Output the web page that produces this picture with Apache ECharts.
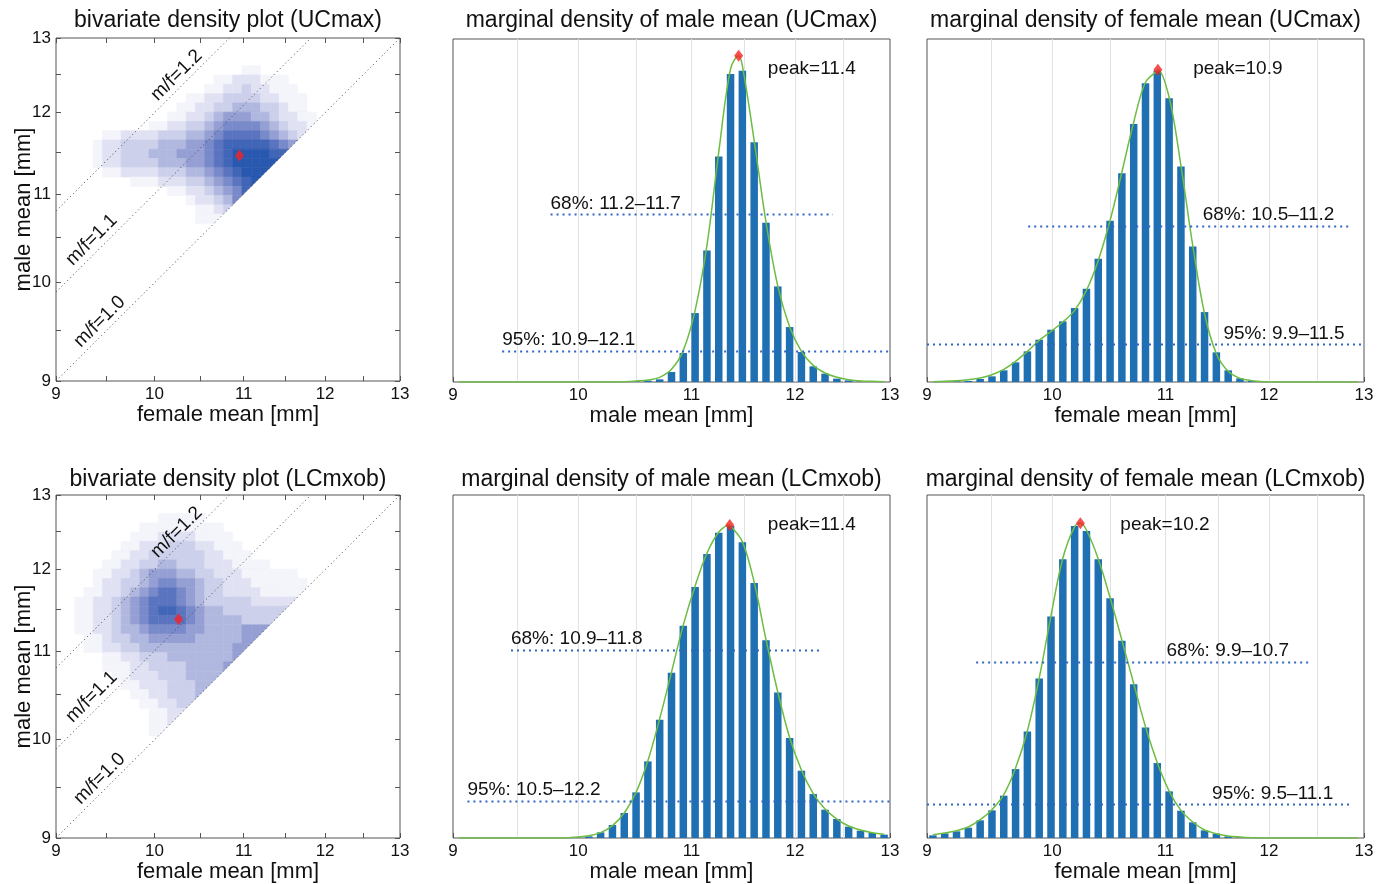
<!DOCTYPE html>
<html>
<head>
<meta charset="utf-8">
<script src="https://cdn.jsdelivr.net/npm/echarts@6/dist/echarts.min.js"></script>
<style>
  html, body { margin: 0; padding: 0; background: #ffffff; }
  #chart { width: 1389px; height: 884px; }
</style>
</head>
<body>
<div id="chart"></div>
<script>
// ---------------------------------------------------------------------------
// Posterior densities of male / female means for two tooth measurements.
// Both axes are logarithmic (9 … 13 mm); histogram bins and density cells
// are equally wide in log space (37 bins across the axis).
// ---------------------------------------------------------------------------

const majorTicks = [9, 10, 11, 12, 13];
const minorTicks = [9, 9.5, 10, 10.5, 11, 11.5, 12, 12.5, 13];
const gridMarks = [9.5, 10, 10.5, 11, 11.5, 12, 12.5];

const panelTitles = [
  'bivariate density plot (UCmax)',
  'marginal density of male mean (UCmax)',
  'marginal density of female mean (UCmax)',
  'bivariate density plot (LCmxob)',
  'marginal density of male mean (LCmxob)',
  'marginal density of female mean (LCmxob)'
];

// marginal histograms, one value per log bin (relative density)
const maleUCmax = [0,0,0,0,0,0,0,0,0,0,0,0,0,0, 1,2,4,8,30,87,207,395,677,925,935,720,478,287,165,90,47,25,10,5,2,1,0];
const femaleUCmax = [0,1,2,3,9,17,35,59,92,127,157,182,222,280,370,484,627,775,897,935,852,647,407,210,89,35,11,3,1, 0,0,0,0,0,0,0,0];
const maleLCmxob = [0,0,0,0,0,0,0,0,0,0, 2,5,17,39,75,137,230,355,496,637,754,853,917,937,888,766,594,437,300,202,132,85,57,34,22,15,10];
const femaleLCmxob = [8,14,20,31,53,83,127,207,320,479,665,837,937,922,837,720,592,462,332,225,140,82,47,23,13,5,2, 0,0,0,0,0,0,0,0,0,0];

// smoothed density curves evaluated at the bin centres
const maleUCmaxCurve = [0,0,0,0,0,0,0,0,0,0,0,0,0,0, 1,3,6,14,38,95,215,410,690,940,950,725,480,288,166,92,50,27,14,7,3,2,1];
const femaleUCmaxCurve = [1,2,4,7,12,22,38,62,92,125,152,180,215,275,365,485,630,780,900,935,855,650,410,205,85,32,11,4,1, 0,0,0,0,0,0,0,0];
const maleLCmxobCurve = [0,0,0,0,0,0,0,0,0,0, 3,7,16,37,75,137,232,358,498,640,757,855,918,938,890,768,596,438,302,204,133,87,57,36,24,16,11];
const femaleLCmxobCurve = [10,15,22,33,55,85,130,210,322,480,668,840,935,925,838,722,594,464,334,226,141,83,48,24,13,6,3,1, 0,0,0,0,0,0,0,0,0];

// curve maxima: [mean in mm, density]
const maleUCmaxPeak = [11.445, 980];
const femaleUCmaxPeak = [10.93, 938];
const maleLCmxobPeak = [11.36, 940];
const femaleLCmxobPeak = [10.24, 945];

// highest-density intervals: coverage, bounds in mm, density level of the cut
const maleUCmaxHPD = [
  { pct: 68, lo: 11.2, hi: 11.7, level: 503 },
  { pct: 95, lo: 10.9, hi: 12.1, level: 93 }
];
const femaleUCmaxHPD = [
  { pct: 68, lo: 10.5, hi: 11.2, level: 469 },
  { pct: 95, lo: 9.9, hi: 11.5, level: 113 }
];
const maleLCmxobHPD = [
  { pct: 68, lo: 10.9, hi: 11.8, level: 566 },
  { pct: 95, lo: 10.5, hi: 12.2, level: 112 }
];
const femaleLCmxobHPD = [
  { pct: 68, lo: 9.9, hi: 10.7, level: 529 },
  { pct: 95, lo: 9.5, hi: 11.1, level: 101 }
];

// joint densities: [male bin row, first female bin column, levels 0-9 per column]
const jointUCmax = [
  [33, 20, '11'],
  [32, 17, '11222111'],
  [31, 16, '1122322111'],
  [30, 14, '1122333322111'],
  [29, 13, '11223344433211'],
  [28, 12, '1122345554432211'],
  [27, 10, '112233456666543221'],
  [26, 5, '1122223334456777765432'],
  [25, 4, '1223333444556788888765'],
  [24, 4, '122333444555678999988'],
  [23, 4, '12233334445567899999'],
  [22, 5, '112222333445678999'],
  [21, 8, '11122233456789'],
  [20, 12, '112234568'],
  [19, 14, '122346'],
  [18, 15, '1123'],
  [17, 15, '111']
];
const jointLCmxob = [
  [34, 11, '11111'],
  [33, 9, '111111111'],
  [32, 8, '11122221111'],
  [31, 7, '1122233322111'],
  [30, 6, '112233333322111'],
  [29, 5, '112233443332221111'],
  [28, 4, '1122345554433222111111'],
  [27, 4, '12233456655433222111111'],
  [26, 3, '112234567765433222211111'],
  [25, 2, '112234567776543333322222'],
  [24, 2, '11223456788765443333333'],
  [23, 2, '1122345677776544443333'],
  [22, 2, '112234456666554444555'],
  [21, 3, '1123344555554444455'],
  [20, 3, '112233444444444455'],
  [19, 5, '112233344444445'],
  [18, 5, '11122333344445'],
  [17, 6, '112223334444'],
  [16, 7, '1122233344'],
  [15, 8, '11223334'],
  [14, 9, '112233'],
  [13, 10, '1122'],
  [12, 10, '112'],
  [11, 10, '11']
];
// joint modes [female mm, male mm]
const jointUCmaxMode = [10.95, 11.46];
const jointLCmxobMode = [10.26, 11.38];
// sex-ratio reference lines
const ratios = [1.0, 1.1, 1.2];

// ---------------------------------------------------------------------------
// layout
// ---------------------------------------------------------------------------
const FONT = "'Liberation Sans', Arial, Helvetica, sans-serif";
const L = Math.log;
const LMIN = L(9), LMAX = L(13);
const NBINS = 37;
const BIN = (LMAX - LMIN) / NBINS;
const YMAX = 1030;

const BOXES = [
  { left: 56, top: 38, width: 344, height: 343 },
  { left: 453, top: 39, width: 437, height: 343 },
  { left: 927, top: 39, width: 437, height: 343 },
  { left: 56, top: 495, width: 344, height: 343 },
  { left: 453, top: 495, width: 437, height: 343 },
  { left: 927, top: 495, width: 437, height: 343 }
];
const TITLE_Y = [21, 21, 21, 480, 480, 480];

// dotted interval lines: [from, to] in mm, label anchor (mm), peak text anchor
const HIST_LAYOUT = [
  { lines: [[9.77, 12.39], [9.38, 13]], labels: [9.77, 9.38], peakText: [11.73, 942] },
  { lines: [[9.80, 12.85], [9, 13]], labels: [11.35, 11.55], peakText: [11.26, 942] },
  { lines: [[9.45, 12.26], [9.11, 13]], labels: [9.45, 9.11], peakText: [11.73, 942] },
  { lines: [[9.38, 12.44], [9, 12.87]], labels: [11.01, 11.44], peakText: [10.59, 942] }
];
// ratio label anchors [female mm, male mm], same order as ratios
const RATIO_TEXT_POS = [[9.43, 9.59], [9.35, 10.47], [10.24, 12.49]];

const COLOR_STOPS = [
  [0, [255, 255, 255]],
  [0.11, [244, 244, 251]],
  [0.33, [205, 209, 235]],
  [0.55, [150, 160, 212]],
  [0.8, [85, 112, 190]],
  [1, [40, 88, 175]]
];
function densityColor(t) {
  for (let i = 1; i < COLOR_STOPS.length; i++) {
    const [t1, c1] = COLOR_STOPS[i];
    const [t0, c0] = COLOR_STOPS[i - 1];
    if (t <= t1) {
      const f = (t - t0) / (t1 - t0);
      const c = c0.map((v, k) => Math.round(v + (c1[k] - v) * f));
      return `rgb(${c[0]},${c[1]},${c[2]})`;
    }
  }
  return 'rgb(40,88,175)';
}

const binCenter = k => LMIN + (k + 0.5) * BIN;
const fmtTick = v => String(Math.round(Math.exp(v)));

// ---------------------------------------------------------------------------
// option assembly
// ---------------------------------------------------------------------------
const grids = BOXES.map(b => Object.assign({ show: true, borderColor: '#555', borderWidth: 1, backgroundColor: 'transparent' }, b));
const xAxes = [], yAxes = [], series = [];

function logAxis(gridIndex, position, withLabels, name, isY) {
  const ax = {
    type: 'value', gridIndex, position, min: LMIN, max: LMAX,
    axisLine: { show: false },
    splitLine: { show: false },
    axisTick: { show: true, inside: true, length: 5, lineStyle: { color: '#555', width: 1 }, customValues: minorTicks.map(L) },
    axisLabel: withLabels
      ? { show: true, customValues: majorTicks.map(L), formatter: fmtTick, fontSize: 17, color: '#111', fontFamily: FONT, margin: 5 }
      : { show: false }
  };
  if (name) {
    ax.name = name;
    ax.nameLocation = 'middle';
    ax.nameGap = isY ? 21 : 23;
    ax.nameMoveOverlap = false;
    ax.nameTextStyle = { fontSize: 22, color: '#111', fontFamily: FONT };
  }
  return ax;
}

function textEl(x, y, text, size, align, rotation) {
  return {
    type: 'text', x, y, rotation: rotation || 0,
    style: {
      text, font: `${size}px ${FONT}`, fill: '#111',
      align, verticalAlign: 'middle', textAlign: align, textVerticalAlign: 'middle'
    }
  };
}

function addBivariate(g, rows, mode) {
  const xi = xAxes.length;
  xAxes.push(logAxis(g, 'bottom', true, 'female mean [mm]', false));
  xAxes.push(logAxis(g, 'top', false));
  const yi = yAxes.length;
  yAxes.push(logAxis(g, 'left', true, 'male mean [mm]', true));
  yAxes.push(logAxis(g, 'right', false));

  const cells = [];
  rows.forEach(([r, c0, s]) => {
    for (let i = 0; i < s.length; i++) {
      const lv = +s[i];
      const c = c0 + i;
      if (lv > 0 && c <= r) cells.push([LMIN + c * BIN, LMIN + r * BIN, lv, c, r]);
    }
  });

  series.push({
    type: 'custom', xAxisIndex: xi, yAxisIndex: yi, silent: true, z: 1,
    data: cells,
    renderItem(params, api) {
      const x0 = api.value(0), y0 = api.value(1), lv = api.value(2);
      const onDiag = api.value(3) === api.value(4);
      const color = densityColor(lv / 9);
      const a = api.coord([x0, y0]);
      const b = api.coord([x0 + BIN, y0 + BIN]);
      if (onDiag) {
        return {
          type: 'polygon',
          shape: { points: [[a[0], a[1]], [a[0], b[1]], [b[0], b[1]]] },
          style: { fill: color, stroke: color, lineWidth: 0.6 }
        };
      }
      return {
        type: 'rect',
        shape: { x: a[0], y: b[1], width: b[0] - a[0], height: a[1] - b[1] },
        style: { fill: color, stroke: color, lineWidth: 0.6 }
      };
    }
  });

  ratios.forEach(q => {
    series.push({
      type: 'line', xAxisIndex: xi, yAxisIndex: yi, silent: true, z: 3,
      showSymbol: false, symbol: 'none',
      lineStyle: { color: '#444', width: 1, type: [1, 3] },
      data: [[LMIN, LMIN + L(q)], [LMAX - L(q), LMAX]]
    });
  });

  series.push({
    type: 'custom', xAxisIndex: xi, yAxisIndex: yi, silent: true, z: 4,
    data: RATIO_TEXT_POS.map(p => [L(p[0]), L(p[1])]),
    renderItem(params, api) {
      const p = api.coord([api.value(0), api.value(1)]);
      return textEl(p[0], p[1], 'm/f=' + ratios[params.dataIndex].toFixed(1), 19, 'center', Math.PI / 4);
    }
  });

  series.push({
    type: 'scatter', xAxisIndex: xi, yAxisIndex: yi, silent: true, z: 5,
    symbol: 'diamond', symbolSize: [9, 12],
    itemStyle: { color: '#f42323' },
    data: [[L(mode[0]), L(mode[1])]]
  });
}

function addHistogram(g, bars, curve, peak, hpd, layout, axisName) {
  const xi = xAxes.length;
  xAxes.push(logAxis(g, 'bottom', true, axisName, false));
  const yi = yAxes.length;
  yAxes.push({ type: 'value', gridIndex: g, min: 0, max: YMAX, show: false });

  // vertical reference lines
  series.push({
    type: 'custom', xAxisIndex: xi, yAxisIndex: yi, silent: true, z: 1,
    data: gridMarks.map(v => [L(v), 0]),
    renderItem(params, api) {
      const p0 = api.coord([api.value(0), 0]);
      const p1 = api.coord([api.value(0), YMAX]);
      const x = Math.round(p0[0]) + 0.5;
      return { type: 'line', shape: { x1: x, y1: p0[1], x2: x, y2: p1[1] }, style: { stroke: '#e2e2e2', lineWidth: 1 } };
    }
  });

  series.push({
    type: 'bar', xAxisIndex: xi, yAxisIndex: yi, silent: true, z: 2,
    barWidth: 7.5,
    itemStyle: { color: '#1f6fb3' },
    data: bars.map((v, k) => [binCenter(k), v])
  });

  const pts = curve.map((v, k) => [binCenter(k), v]);
  pts.push([L(peak[0]), peak[1]]);
  pts.sort((a, b) => a[0] - b[0]);
  series.push({
    type: 'line', xAxisIndex: xi, yAxisIndex: yi, silent: true, z: 3,
    smooth: 0.35, showSymbol: false, symbol: 'none',
    lineStyle: { color: '#6cbd42', width: 1.5 },
    data: pts
  });

  series.push({
    type: 'custom', xAxisIndex: xi, yAxisIndex: yi, silent: true, z: 4,
    data: hpd.map(h => [L(h.lo), h.level]),
    renderItem(params, api) {
      const i = params.dataIndex;
      const h = hpd[i];
      const ln = layout.lines[i];
      const a = api.coord([L(ln[0]), h.level]);
      const b = api.coord([L(ln[1]), h.level]);
      const t = api.coord([L(layout.labels[i]), h.level]);
      const y = Math.round(a[1]) + 0.5;
      return {
        type: 'group',
        children: [
          { type: 'line', shape: { x1: a[0], y1: y, x2: b[0], y2: y }, style: { stroke: '#2f66c6', lineWidth: 2, lineDash: [2, 4] } },
          textEl(t[0], t[1] - 11, `${h.pct}%: ${h.lo.toFixed(1)}\u2013${h.hi.toFixed(1)}`, 19, 'left')
        ]
      };
    }
  });

  series.push({
    type: 'custom', xAxisIndex: xi, yAxisIndex: yi, silent: true, z: 5,
    data: [[L(layout.peakText[0]), layout.peakText[1]]],
    renderItem(params, api) {
      const p = api.coord([api.value(0), api.value(1)]);
      return textEl(p[0], p[1], 'peak=' + peak[0].toFixed(1), 19, 'left');
    }
  });

  series.push({
    type: 'scatter', xAxisIndex: xi, yAxisIndex: yi, silent: true, z: 6,
    symbol: 'diamond', symbolSize: [9, 12],
    itemStyle: { color: '#f42323' },
    data: [[L(peak[0]), peak[1]]]
  });
}

addBivariate(0, jointUCmax, jointUCmaxMode);
addHistogram(1, maleUCmax, maleUCmaxCurve, maleUCmaxPeak, maleUCmaxHPD, HIST_LAYOUT[0], 'male mean [mm]');
addHistogram(2, femaleUCmax, femaleUCmaxCurve, femaleUCmaxPeak, femaleUCmaxHPD, HIST_LAYOUT[1], 'female mean [mm]');
addBivariate(3, jointLCmxob, jointLCmxobMode);
addHistogram(4, maleLCmxob, maleLCmxobCurve, maleLCmxobPeak, maleLCmxobHPD, HIST_LAYOUT[2], 'male mean [mm]');
addHistogram(5, femaleLCmxob, femaleLCmxobCurve, femaleLCmxobPeak, femaleLCmxobHPD, HIST_LAYOUT[3], 'female mean [mm]');

const chart = echarts.init(document.getElementById('chart'));
chart.setOption({
  animation: false,
  backgroundColor: '#ffffff',
  grid: grids,
  xAxis: xAxes,
  yAxis: yAxes,
  series,
  graphic: panelTitles.map((t, i) => ({
    type: 'text',
    x: BOXES[i].left + BOXES[i].width / 2,
    y: TITLE_Y[i],
    style: {
      text: t, font: `23px ${FONT}`, fill: '#111',
      align: 'center', verticalAlign: 'middle', textAlign: 'center', textVerticalAlign: 'middle'
    }
  }))
});
</script>
</body>
</html>
